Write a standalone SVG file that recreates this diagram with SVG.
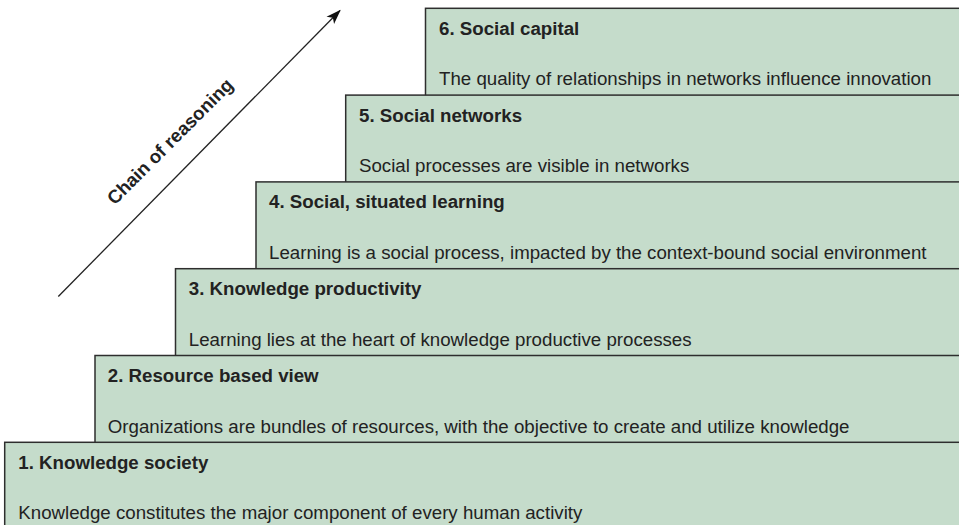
<svg xmlns="http://www.w3.org/2000/svg" width="959" height="525" viewBox="0 0 959 525">
<defs>
<style>
.box{fill:#c5dccb;stroke:#2e2e2e;stroke-width:1.5}
.t{font-family:"Liberation Sans",Arial,sans-serif;font-size:18.7px;fill:#222}
.b{font-weight:bold}
</style>
<marker id="ah" markerWidth="16" markerHeight="12" refX="13" refY="5" orient="auto" markerUnits="userSpaceOnUse" viewBox="0 0 15 10">
<path d="M0,0 L14,5 L0,10 L3.5,5 Z" fill="#111"/>
</marker>
</defs>
<rect width="959" height="525" fill="#fff"/>
<g id="connectors">
<line x1="58.3" y1="296.5" x2="340" y2="10.5" stroke="#222" stroke-width="1.3" marker-end="url(#ah)"/>
<text class="t b" x="174.5" y="146" text-anchor="middle" transform="rotate(-45 174.5 146)">Chain of reasoning</text>
</g>
<g id="node6">
<rect class="box" x="425.5" y="8.3" width="545" height="100"/>
<text class="t b" x="439" y="35">6. Social capital</text>
<text class="t" x="439" y="85">The quality of relationships in networks influence innovation</text>
</g>
<g id="node5">
<rect class="box" x="345.7" y="95.1" width="625" height="100"/>
<text class="t b" x="359" y="121.8">5. Social networks</text>
<text class="t" x="359" y="172">Social processes are visible in networks</text>
</g>
<g id="node4">
<rect class="box" x="256" y="181.9" width="715" height="100"/>
<text class="t b" x="269" y="208.4">4. Social, situated learning</text>
<text class="t" x="269" y="259">Learning is a social process, impacted by the context-bound social environment</text>
</g>
<g id="node3">
<rect class="box" x="175.5" y="268.7" width="795" height="100"/>
<text class="t b" x="188.8" y="295.2">3. Knowledge productivity</text>
<text class="t" x="188.8" y="345.7">Learning lies at the heart of knowledge productive processes</text>
</g>
<g id="node2">
<rect class="box" x="95" y="355.5" width="875" height="100"/>
<text class="t b" x="107.8" y="382">2. Resource based view</text>
<text class="t" x="107.8" y="432.5">Organizations are bundles of resources, with the objective to create and utilize knowledge</text>
</g>
<g id="node1">
<rect class="box" x="4.7" y="442.3" width="966" height="100"/>
<text class="t b" x="18.3" y="468.8">1. Knowledge society</text>
<text class="t" x="18.3" y="519">Knowledge constitutes the major component of every human activity</text>
</g>
</svg>
